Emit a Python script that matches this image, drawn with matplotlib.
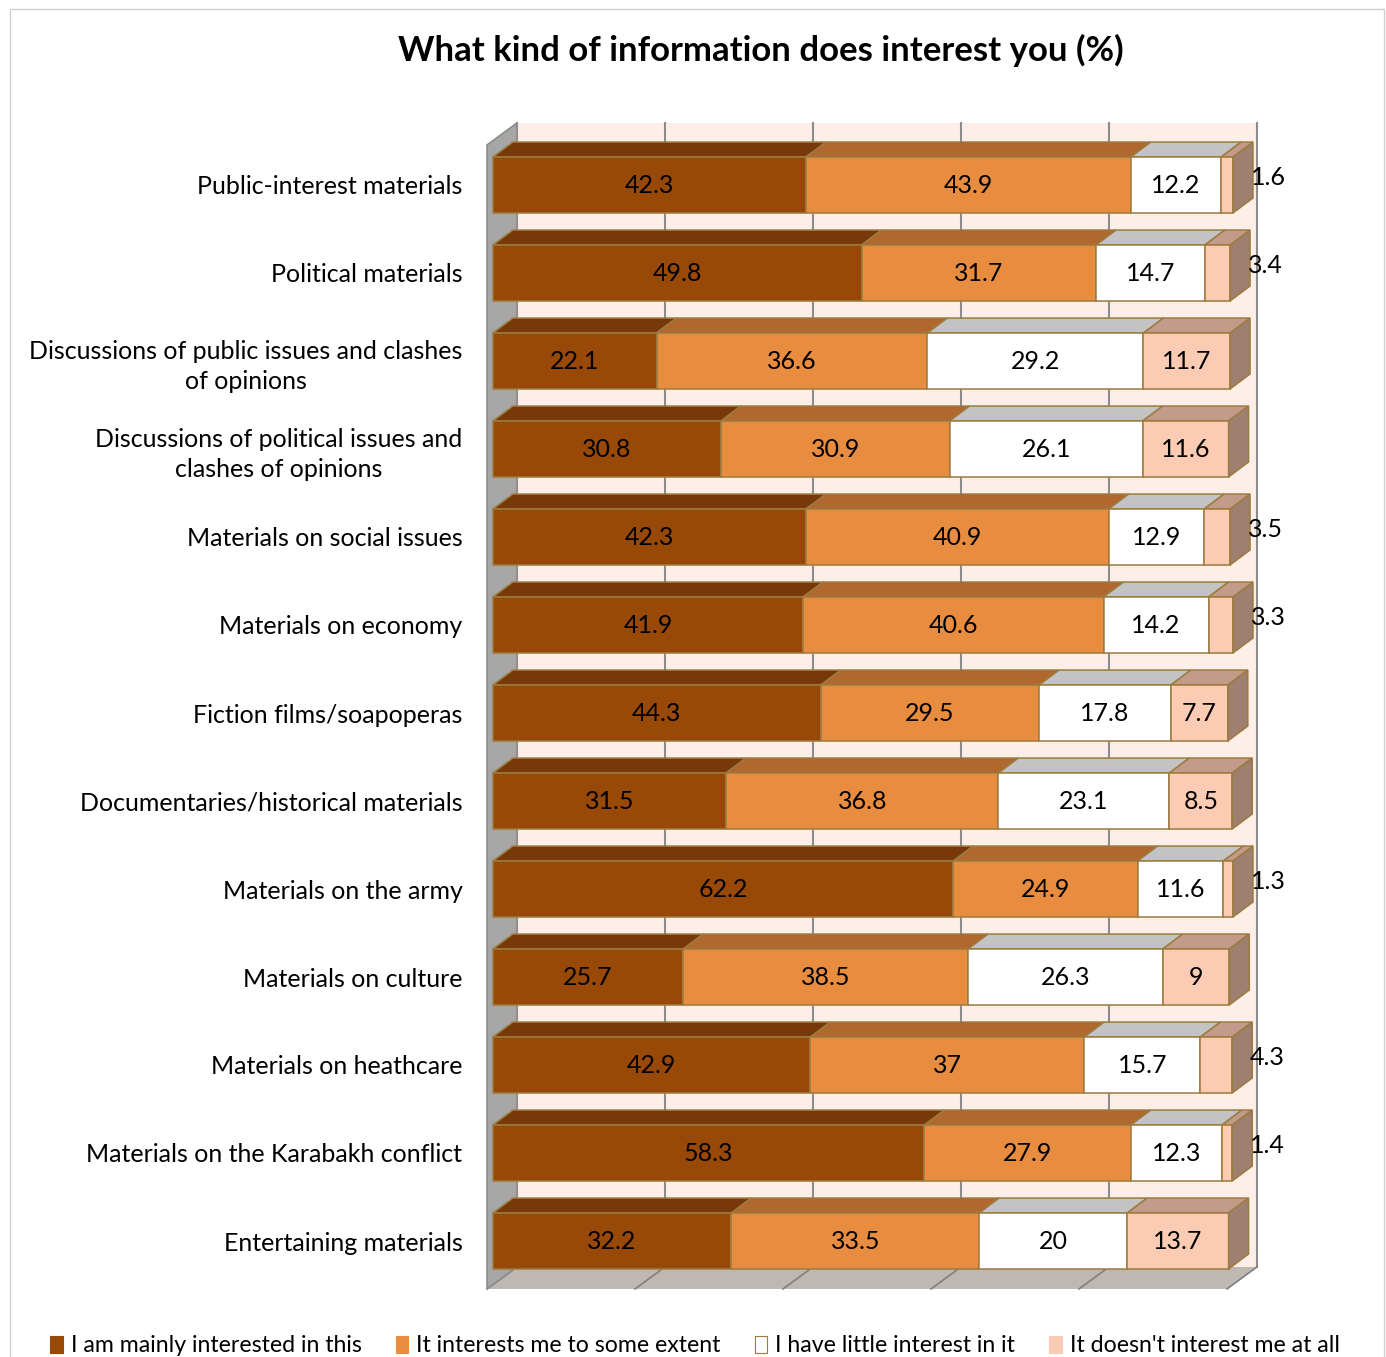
import matplotlib

matplotlib.use("Agg")
import matplotlib.pyplot as plt
from matplotlib.patches import Patch, Polygon, Rectangle

plt.rcParams["font.family"] = ["Lato", "DejaVu Sans"]

TITLE = "What kind of information does interest you (%)"

CATEGORIES = [
    "Public-interest materials",
    "Political materials",
    "Discussions of public issues and clashes\nof opinions",
    "Discussions of political issues and\nclashes of opinions",
    "Materials on social issues",
    "Materials on economy",
    "Fiction films/soapoperas",
    "Documentaries/historical materials",
    "Materials on the army",
    "Materials on culture",
    "Materials on heathcare",
    "Materials on the Karabakh conflict",
    "Entertaining materials",
]

SERIES_NAMES = [
    "I am mainly interested in this",
    "It interests me to some extent",
    "I have little interest in it",
    "It doesn't interest me at all",
]

MAINLY = [42.3, 49.8, 22.1, 30.8, 42.3, 41.9, 44.3, 31.5, 62.2, 25.7, 42.9, 58.3, 32.2]
SOME = [43.9, 31.7, 36.6, 30.9, 40.9, 40.6, 29.5, 36.8, 24.9, 38.5, 37, 27.9, 33.5]
LITTLE = [12.2, 14.7, 29.2, 26.1, 12.9, 14.2, 17.8, 23.1, 11.6, 26.3, 15.7, 12.3, 20]
NOT_AT_ALL = [1.6, 3.4, 11.7, 11.6, 3.5, 3.3, 7.7, 8.5, 1.3, 9, 4.3, 1.4, 13.7]

GRID_TICKS = [0, 20, 40, 60, 80, 100]

# face colours per series: front, top, side
FRONT = ["#984807", "#E88C40", "#FFFFFF", "#FBCBB4"]
TOP = ["#77380A", "#B0682F", "#C3C3C3", "#C39B8B"]
SIDE = ["#6A3208", "#9C5C2A", "#A8A8A8", "#9E7F70"]
EDGE = "#9C7B3F"

FS = 18

# pseudo-3d geometry, in data units (x: percent, y: category rows)
BAR_H = 0.636
DX, DY = 2.7, -0.17          # bar depth
FX, FY = -0.81, 0.045        # front plane of the walls
BX, BY = 3.24, -0.205        # back plane of the walls
SMALL = 5                    # labels below this go outside the bar

W, H = 1386, 1357
fig = plt.figure(figsize=(W / 100, H / 100), dpi=100)

# axes placed so that 0..100 % runs from px 493 to 1233, rows 88 px apart
xlim = (-3, 112)
ylim = (12.75, -0.9)
px_left = 493 + xlim[0] * 7.4
px_right = 493 + xlim[1] * 7.4
px_top = 185 + ylim[1] * 88
px_bottom = 185 + ylim[0] * 88
ax = fig.add_axes([px_left / W, 1 - px_bottom / H,
                   (px_right - px_left) / W, (px_bottom - px_top) / H])
ax.set_xlim(*xlim)
ax.set_ylim(*ylim)

n = len(CATEGORIES)
y_top, y_bot = -0.5, n - 0.5

# back wall with gridlines
ax.add_patch(Rectangle((BX, y_top + BY), 100, n, facecolor="#FDEEE8",
                       edgecolor="none", zorder=0))
for g in GRID_TICKS:
    ax.plot([g + BX, g + BX], [y_top + BY, y_bot + BY], color="#8C8C8C",
            lw=1.5, zorder=1)

# floor
ax.add_patch(Polygon([(FX, y_bot + FY), (100 + FX, y_bot + FY),
                      (100 + BX, y_bot + BY), (BX, y_bot + BY)],
                     closed=True, facecolor="#BFB7B2", edgecolor="none", zorder=1))
for g in GRID_TICKS:
    ax.plot([g + BX, g + FX], [y_bot + BY, y_bot + FY], color="#7F7F7F",
            lw=1.2, zorder=2)

# left wall
ax.add_patch(Polygon([(FX, y_top + FY), (BX, y_top + BY),
                      (BX, y_bot + BY), (FX, y_bot + FY)],
                     closed=True, facecolor="#A6A6A6", edgecolor="#8C8C8C",
                     lw=1.2, zorder=2))

series = [MAINLY, SOME, LITTLE, NOT_AT_ALL]
for i in range(n):
    left = 0.0
    top = i - BAR_H / 2
    bottom = i + BAR_H / 2
    for s, values in enumerate(series):
        v = values[i]
        right = left + v
        ax.add_patch(Polygon([(left, top), (right, top), (right + DX, top + DY),
                              (left + DX, top + DY)], closed=True,
                             facecolor=TOP[s], edgecolor=EDGE, lw=1.1, zorder=3))
        ax.add_patch(Rectangle((left, top), v, BAR_H, facecolor=FRONT[s],
                               edgecolor=EDGE, lw=1.1, zorder=4))
        if s == len(series) - 1:
            ax.add_patch(Polygon([(right, top), (right + DX, top + DY),
                                  (right + DX, bottom + DY), (right, bottom)],
                                 closed=True, facecolor=SIDE[s], edgecolor=EDGE,
                                 lw=1.1, zorder=4))
        label = f"{v:g}"
        if v < SMALL:
            ax.text(right + DX - 0.3, i - 0.09, label, ha="left", va="center",
                    fontsize=FS, zorder=6)
        else:
            ax.text(left + v / 2, i + 0.01, label, ha="center", va="center",
                    fontsize=FS, zorder=6)
        left = right

ax.set_yticks(range(n))
ax.set_yticklabels(CATEGORIES, fontsize=FS, multialignment="center",
                   linespacing=1.35)
ax.tick_params(axis="y", length=0, pad=6)
ax.set_xticks([])
for sp in ax.spines.values():
    sp.set_visible(False)
ax.patch.set_visible(False)

fig.text(761 / W, 1 - 50 / H, TITLE, ha="center", va="center",
         fontsize=25, fontweight="bold")

handles = [Patch(facecolor=FRONT[s], edgecolor=EDGE if s == 2 else FRONT[s],
                 lw=0.8, label=SERIES_NAMES[s]) for s in range(4)]
fig.legend(handles=handles, loc="center", ncol=4, frameon=False,
           bbox_to_anchor=(695 / W, 1 - 1346 / H), fontsize=16.7,
           handlelength=0.55, handleheight=0.7, handletextpad=0.35,
           columnspacing=1.45)

# outer chart border
fig.add_artist(Rectangle((9.5 / W, -0.01), (1383.5 - 9.5) / W, 1 - 8.5 / H + 0.01,
                         transform=fig.transFigure, fill=False,
                         edgecolor="#D0D0D0", lw=1.0))

fig.savefig("out.png", dpi=100)
